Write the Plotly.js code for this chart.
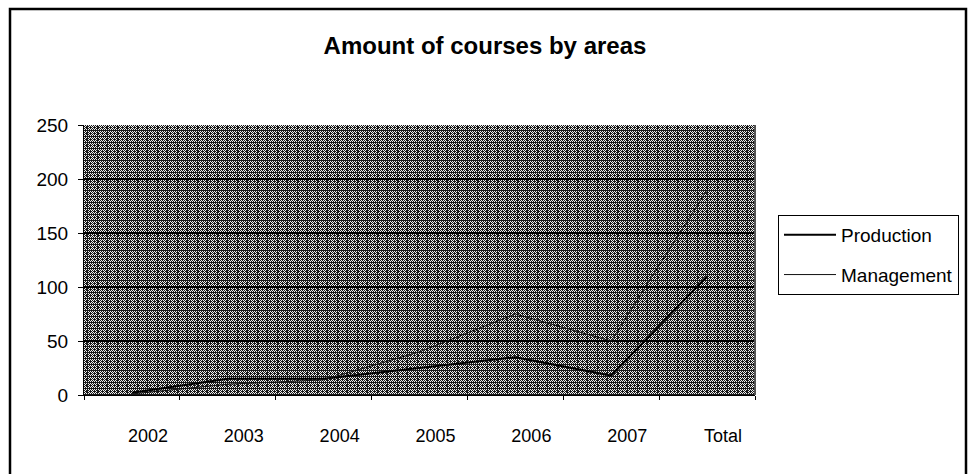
<!DOCTYPE html>
<html>
<head>
<meta charset="utf-8">
<script src="https://cdn.plot.ly/plotly-3.0.1.min.js"></script>
<style>
  html, body { margin: 0; padding: 0; background: #ffffff; }
  #chart { width: 968px; height: 474px; }
</style>
</head>
<body>
<div id="chart"></div>
<script>
// ---- data ----
const categories = ["2002", "2003", "2004", "2005", "2006", "2007", "Total"];
const productionValues = [2, 15, 15, 25, 35, 18, 110];
const managementValues = [1, 10, 14, 40, 75, 50, 190];
const yTickValues = [0, 50, 100, 150, 200, 250];
const seriesNames = ["Production", "Management"];

// ---- layout geometry (pixels) ----
const W = 968, H = 474;
const M = { l: 84, r: W - 755, t: 125, b: H - 395 };
const plotW = W - M.l - M.r, plotH = H - M.t - M.b;
const px2x = px => (px - M.l) / plotW;
const px2y = py => (H - M.b - py) / plotH;

// dithered gray texture for the plot area (regular pattern, not data)
function makeTexture(w, h) {
  const c = document.createElement("canvas");
  c.width = w; c.height = h;
  const ctx = c.getContext("2d");
  const img = ctx.createImageData(w, h);
  for (let y = 0; y < h; y++) {
    for (let x = 0; x < w; x++) {
      const i = (y * w + x) * 4;
      let white = ((x + y) % 2 === 0);
      if (y % 3 === 2 && x % 4 !== 0) white = false;
      if (x % 5 === 3 && y % 2 === 1) white = false;
      const v = white ? 240 : 25;
      img.data[i] = v; img.data[i + 1] = v; img.data[i + 2] = v; img.data[i + 3] = 255;
    }
  }
  ctx.putImageData(img, 0, 0);
  return c.toDataURL("image/png");
}

const font = "Liberation Sans, Arial, sans-serif";

const traces = [
  {
    x: categories, y: productionValues, name: seriesNames[0],
    type: "scatter", mode: "lines",
    line: { color: "#000000", width: 2 },
    legendgroup: "p"
  },
  {
    x: categories, y: managementValues, name: seriesNames[1],
    type: "scatter", mode: "lines",
    line: { color: "#111111", width: 1 },
    legendgroup: "m"
  }
];

const layout = {
  width: W, height: H,
  margin: M,
  paper_bgcolor: "#ffffff",
  plot_bgcolor: "#777777",
  font: { family: font, color: "#000000", size: 18 },
  title: {
    text: "<b>Amount of courses by areas</b>",
    font: { family: font, size: 24, color: "#000000" },
    x: 485 / W, xanchor: "center", xref: "container",
    y: 1 - 46 / H, yanchor: "middle", yref: "container"
  },
  showlegend: true,
  legend: {
    x: px2x(778), xanchor: "left",
    y: px2y(215), yanchor: "top",
    bgcolor: "#ffffff",
    bordercolor: "#000000", borderwidth: 1,
    font: { family: font, size: 19, color: "#000000" },
    tracegroupgap: 12,
    traceorder: "grouped",
    itemwidth: 30
  },
  xaxis: {
    type: "category",
    range: [-0.5, 6.5],
    tickson: "boundaries",
    ticks: "outside", ticklen: 4, tickcolor: "#000000",
    showline: true, linecolor: "#000000", linewidth: 1,
    showgrid: false, zeroline: false,
    ticklabelshift: 16,
    ticklabelstandoff: 24,
    tickfont: { family: font, size: 18, color: "#000000" },
    fixedrange: true
  },
  yaxis: {
    range: [0, 250],
    tickvals: yTickValues,
    ticks: "outside", ticklen: 5, tickcolor: "#000000",
    showline: true, linecolor: "#000000", linewidth: 1,
    showgrid: true, gridcolor: "#000000", gridwidth: 1.5,
    zeroline: false,
    ticklabelstandoff: 6,
    tickfont: { family: font, size: 19, color: "#000000" },
    fixedrange: true
  },
  images: [{
    source: makeTexture(plotW, plotH),
    xref: "paper", yref: "paper",
    x: 0, y: 1, sizex: 1, sizey: 1,
    xanchor: "left", yanchor: "top",
    sizing: "stretch", layer: "below"
  }],
  shapes: [
    { // outer chart frame
      type: "rect", xref: "paper", yref: "paper",
      x0: px2x(10), x1: px2x(966), y0: px2y(490), y1: px2y(9),
      line: { color: "#000000", width: 2.5 }, fillcolor: "rgba(0,0,0,0)",
      layer: "above"
    },
    { // plot area right border
      type: "line", xref: "paper", yref: "paper",
      x0: 1, x1: 1, y0: 0, y1: 1,
      line: { color: "#555555", width: 2 }, layer: "above"
    }
  ]
};

Plotly.newPlot("chart", traces, layout, { displayModeBar: false, staticPlot: true }).then(gd => {
  // longer legend line samples, as in the reference
  const extra = 22;
  gd.querySelectorAll(".legend .legendlines path").forEach(p => p.setAttribute("d", "M5,0h" + (30 + extra)));
  gd.querySelectorAll(".legend text.legendtext").forEach(t => {
    const x = parseFloat(t.getAttribute("x") || "40");
    t.setAttribute("x", x + extra);
  });
  gd.querySelectorAll(".legend .scrollbox").forEach(s => s.removeAttribute("clip-path"));
  const bg = gd.querySelector(".legend rect.bg");
  if (bg) bg.setAttribute("width", parseFloat(bg.getAttribute("width")) + extra);
});
</script>
</body>
</html>
